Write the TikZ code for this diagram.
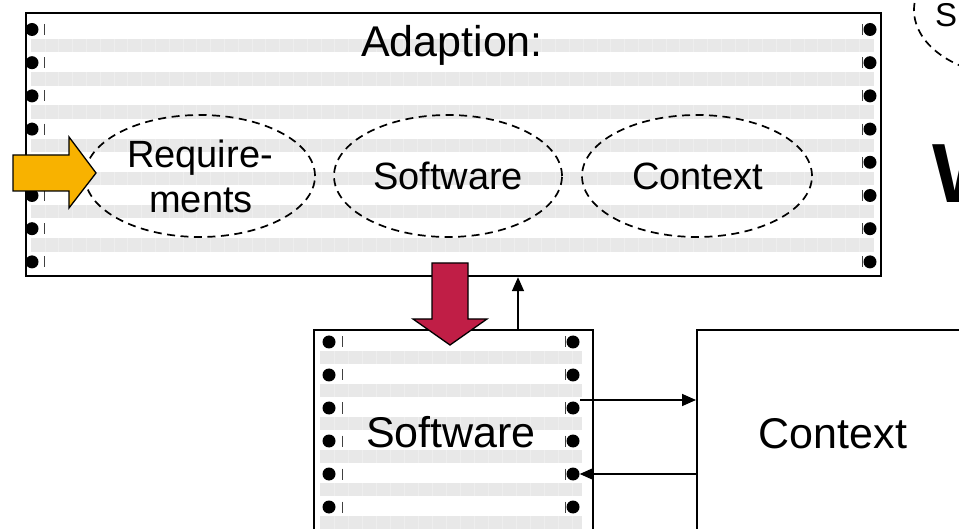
\documentclass[tikz,border=0pt]{standalone}
\usepackage{fontspec}
\setmainfont{Liberation Sans}
\usetikzlibrary{shapes.geometric,arrows.meta}
\definecolor{pushorange}{RGB}{248,178,0}
\definecolor{pushred}{RGB}{192,30,70}
\begin{document}
\begin{tikzpicture}[x=1pt,y=-1pt,
  panel/.style={draw=black,line width=2.2pt,rectangle,inner sep=0pt,anchor=north west},
  band/.style={fill=black!9,draw=none},
  seam/.style={draw=white,line width=0.6pt,opacity=0.3},
  hole/.style={circle,fill=black,inner sep=0pt,minimum size=13pt},
  tick/.style={draw=black!75,line width=1pt},
  bubble/.style={ellipse,draw=black,dash pattern=on 8pt off 5.5pt,line width=1.7pt,inner sep=0pt},
  conn/.style={line width=1.6pt,-{Triangle[length=14pt,width=12pt]}},
  blockarrow/.style={draw=black,line width=1.3pt,line join=miter},
  bigtxt/.style={font=\fontsize{43}{50}\selectfont,anchor=base,inner sep=0pt},
  midtxt/.style={font=\fontsize{38}{45}\selectfont,anchor=base,inner sep=0pt},
]
\useasboundingbox (0,0) rectangle (959,529);
\clip (0,0) rectangle (959,529);

% ---------- Adaption panel ----------
\node[panel,minimum width=855pt,minimum height=263pt] (adapt) at (25,12) {};
\foreach \k in {0,...,6}{
  \pgfmathsetmacro{\yy}{29.5+33.2*\k}
  \fill[band] (31,\yy+9.5) rectangle (874,\yy+23);
  \foreach \xx in {44.8,58.6,...,870}{
    \draw[seam] (\xx,\yy+9.5) -- (\xx,\yy+23);
  }
}
\foreach \k in {0,...,7}{
  \pgfmathsetmacro{\yy}{29.5+33.2*\k}
  \node[hole] (aL\k) at (32,\yy) {};
  \node[hole] (aR\k) at (870,\yy) {};
  \draw[tick] (44,\yy-5.5) -- (44,\yy+5.5);
  \draw[tick] (862,\yy-5.5) -- (862,\yy+5.5);
}
\node[bigtxt] (title) at (452,57) {Adaption:};

\node[bubble,minimum width=230pt,minimum height=122pt] (req) at (200,176) {};
\node[bubble,minimum width=228pt,minimum height=122pt] (swb) at (448,176) {};
\node[bubble,minimum width=230pt,minimum height=122pt] (ctxb) at (697,176) {};
\node[midtxt] (reqA) at (200,168) {Require-};
\node[midtxt] (reqB) at (201,213) {ments};
\node[midtxt] (swbt) at (448,190) {Software};
\node[midtxt] (ctxbt) at (697.5,190) {Context};

% incoming requirements arrow
\draw[blockarrow,fill=pushorange] (13,155) -- (69,155) -- (69,137) -- (96,173)
  -- (69,208) -- (69,191) -- (13,191) -- cycle;

% ---------- Software panel ----------
\node[panel,minimum width=279pt,minimum height=240pt] (sw) at (313,329) {};
\foreach \k in {1,...,6}{
  \pgfmathsetmacro{\yy}{342+33*(\k-1)}
  \fill[band] (320,\yy+9) rectangle (582,\yy+22);
  \foreach \xx in {334,348,...,580}{
    \draw[seam] (\xx,\yy+9) -- (\xx,\yy+22);
  }
  \node[hole] (sL\k) at (329,\yy) {};
  \node[hole] (sR\k) at (573,\yy) {};
  \draw[tick] (342,\yy-5.5) -- (342,\yy+5.5);
  \draw[tick] (565,\yy-5.5) -- (565,\yy+5.5);
}
\node[bigtxt] (swt) at (451,447) {Software};

% ---------- Context panel ----------
\node[panel,minimum width=320pt,minimum height=240pt] (ctx) at (696,329) {};
\node[bigtxt] (ctxt) at (833,448) {Context};

% adaption acts on the software
\draw[blockarrow,fill=pushred] (432,263) -- (468,263) -- (468,319) -- (487,319)
  -- (450,345) -- (413,319) -- (432,319) -- cycle;

% monitoring and interaction
\coordinate (upx) at (518,0);
\draw[conn] (upx |- sw.north) -- (upx |- adapt.south);
\draw[conn] ([shift={(7,-8)}]sR3.center) coordinate (out1) -- (out1 -| ctx.west);
\draw[conn] (sR5 -| ctx.west) -- (sR5.east);

% neighbouring content
\node[bubble,minimum width=200pt,minimum height=132pt] (nextbub) at (1014,10) {};
\node[font=\fontsize{33}{38}\selectfont,anchor=base west,inner sep=0pt] (nexttxt) at (935,27) {S};
\node[font=\bfseries\fontsize{84}{90}\selectfont,anchor=base west,inner sep=0pt] (bigw) at (932,203) {W};
\end{tikzpicture}
\end{document}
